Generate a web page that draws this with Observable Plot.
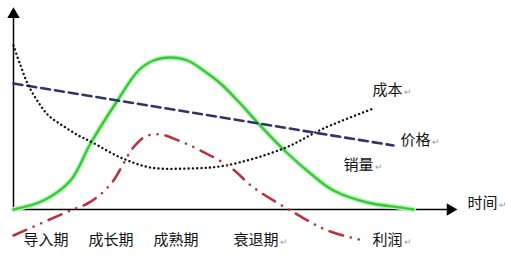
<!DOCTYPE html>
<html>
<head>
<meta charset="utf-8">
<script src="https://cdn.jsdelivr.net/npm/d3@7"></script>
<script src="https://cdn.jsdelivr.net/npm/@observablehq/plot@0.6"></script>
<style>
  html, body { margin: 0; padding: 0; background: #fff; }
  #chart svg { display: block; }
</style>
</head>
<body>
<div id="chart"></div>
<script>
// Product life cycle: time t (0 = start) vs. level v (0 = time axis)
const salesT  = [0, 7.5, 14.25, 19.25, 26, 31.25, 35, 39.25, 43.5, 47.5, 51.75, 56, 61, 67.25, 74.25, 80, 88.5, 96.75, 100];
const salesV  = [0, 4.5, 14.5, 33, 54.5, 69.5, 74.5, 76, 74.5, 69.5, 63, 54.5, 43.5, 30.5, 18, 9.5, 3.5, 1, 0];

const priceT  = [0, 95];
const priceV  = [63, 32];

const costT   = [0, 1.75, 3.75, 6.25, 8.75, 12.25, 16.25, 19.75, 26.75, 34.25, 43.5, 53, 67.5, 77.5, 90];
const costV   = [82, 72, 62, 53.5, 47, 42, 37, 33.5, 26, 21, 20.5, 22, 30.5, 40.5, 50.5];

const profitT = [0, 14.25, 18.5, 22, 25, 27.5, 29.75, 33, 36.75, 41.25, 46.75, 54.25, 60, 69.25, 78.5, 87.5];
const profitV = [-13, -0.5, 3, 8, 14.5, 23, 30.5, 36.5, 37.5, 34.5, 29.5, 21, 11, -0.5, -10.5, -15.5];

const phaseNames = ["导入期", "成长期", "成熟期", "衰退期"];
const seriesNames = ["成本", "价格", "销量", "利润"];
const axisName = "时间";

const zip = (ts, vs) => ts.map((t, i) => ({t, v: vs[i]}));
const sales = zip(salesT, salesV);
const price = zip(priceT, priceV);
const cost = zip(costT, costV);
const profit = zip(profitT, profitV);

// label placement (left edge t, middle v), with trailing return marks
const font = "'Noto Sans CJK SC', 'Noto Sans', sans-serif";
const labels = [
  {text: seriesNames[0], t: 89.75, v: 59.5, mark: true},
  {text: seriesNames[1], t: 96.75, v: 34.5, mark: true},
  {text: seriesNames[2], t: 82.5,  v: 22,   mark: true},
  {text: seriesNames[3], t: 89.75, v: -15.5, mark: true},
  {text: axisName,       t: 113.5, v: 3,    mark: true},
  {text: phaseNames[0],  t: 2.5,   v: -15.5, mark: false},
  {text: phaseNames[1],  t: 18.75, v: -15.5, mark: false},
  {text: phaseNames[2],  t: 35,    v: -15.5, mark: false},
  {text: phaseNames[3],  t: 55,    v: -15.5, mark: true}
];
const charW = 15 / 4; // one 15px glyph in t units
const returnMarks = labels.filter(d => d.mark)
  .map(d => ({t: d.t + d.text.length * charW + 0.4, v: d.v - 1}));

const chart = Plot.plot({
  width: 511,
  height: 261,
  margin: 0,
  x: {domain: [-3.25, 124.5], range: [0, 511], axis: null},
  y: {domain: [-26, 104.5], range: [261, 0], axis: null},
  marks: [
    // axes with filled arrowheads
    Plot.ruleX([0], {y1: 0, y2: 96, stroke: "#000", strokeWidth: 1.5}),
    Plot.ruleY([0], {x1: 0, x2: 108.5, stroke: "#000", strokeWidth: 1.5}),
    Plot.dot([{t: 0, v: 97.5}], {x: "t", y: "v", symbol: "triangle", r: 4.6, fill: "#000", stroke: null}),
    Plot.dot([{t: 109.2, v: 0}], {x: "t", y: "v", symbol: "triangle", r: 4.6, fill: "#000", stroke: null, rotate: 90}),

    // sales
    Plot.line(sales, {x: "t", y: "v", curve: "catmull-rom", stroke: "#bff2bf", strokeWidth: 5}),
    Plot.line(sales, {x: "t", y: "v", curve: "catmull-rom", stroke: "#33cc33", strokeWidth: 2.4}),
    // price
    Plot.line(price, {x: "t", y: "v", stroke: "#33336b", strokeWidth: 2.6, strokeDasharray: "9 5"}),
    // cost
    Plot.line(cost, {x: "t", y: "v", curve: "catmull-rom", stroke: "#111", strokeWidth: 2.4, strokeDasharray: "0.1 4.2", strokeLinecap: "round"}),
    // profit (dash-dot-dot)
    Plot.line(profit, {x: "t", y: "v", curve: "catmull-rom", stroke: "#bb3040", strokeWidth: 2.6, strokeDasharray: "14 8 0.1 8 0.1 8", strokeLinecap: "round"}),

    Plot.text(labels, {x: "t", y: "v", text: "text", textAnchor: "start", fontSize: 15, fontFamily: font, fill: "#111"}),
    Plot.text(returnMarks, {x: "t", y: "v", text: () => "↵", textAnchor: "start", fontSize: 9, fontFamily: font, fill: "#999"})
  ]
});
document.getElementById("chart").appendChild(chart);
</script>
</body>
</html>
